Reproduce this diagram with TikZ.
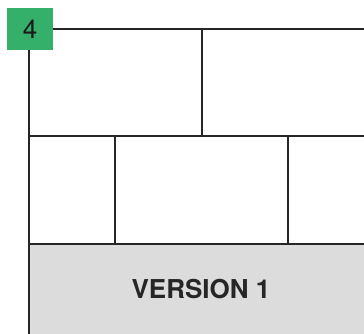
\documentclass[tikz,border=0pt]{standalone}
\usepackage{fontspec}
\setmainfont{TeX Gyre Heros}
\usepackage{xcolor}
\usetikzlibrary{positioning}
\definecolor{taggreen}{RGB}{52,176,106}
\definecolor{basegray}{RGB}{220,220,220}

\begin{document}
\begin{tikzpicture}[
  x=1pt, y=-1pt,
  wall/.style={draw=black!85, line width=2.2pt},
  tag/.style={fill=taggreen, minimum width=46pt, minimum height=42pt, inner sep=0pt, font=\fontsize{26}{26}\selectfont, text=black!90},
  label/.style={font=\bfseries\fontsize{26}{26}\selectfont, text=black!85}
]
\useasboundingbox (0,0) rectangle (364,334);
% base block
\fill[basegray] (29,244) rectangle (364,334);
\node[label] (ver) at (201,289) {VERSION 1};
% grid
\draw[wall] (29,334) -- (29,29) -- (364,29);
\draw[wall] (29,136) -- (364,136);
\draw[wall] (29,244) -- (364,244);
\draw[wall] (202,29) -- (202,136);
\draw[wall] (115,136) -- (115,244);
\draw[wall] (288,136) -- (288,244);
% number tag
\node[tag] (num) at (30,29) {4};
\end{tikzpicture}
\end{document}
